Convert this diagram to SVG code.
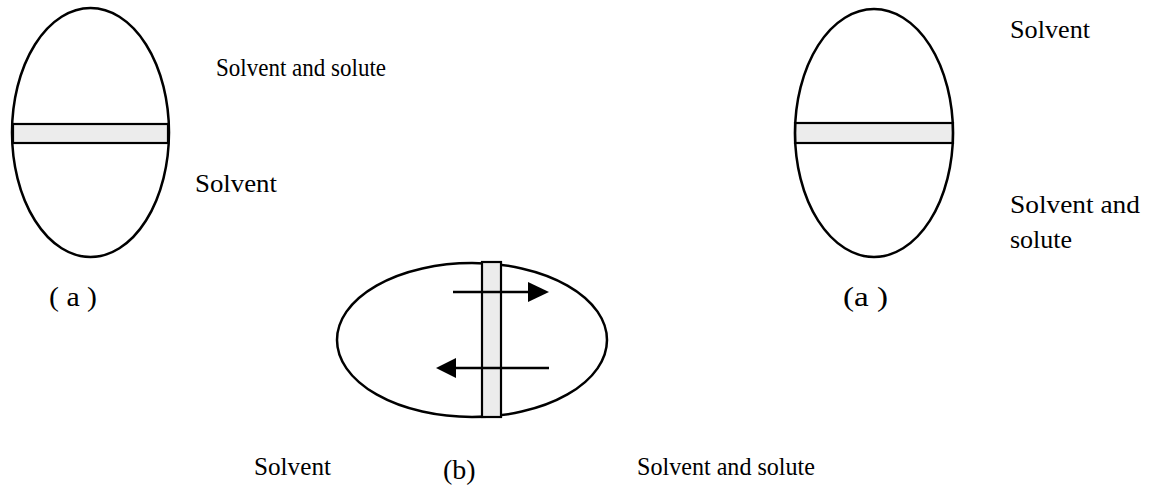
<svg xmlns="http://www.w3.org/2000/svg" width="1152" height="493" viewBox="0 0 1152 493">
<defs>
<style>
.shell{fill:none;stroke:#000;stroke-width:2.5}
.band{fill:#ececec;stroke:#000;stroke-width:2.2}
.lbl{font-family:"Liberation Serif","Times New Roman",serif;font-size:26px;fill:#000}
.par{font-family:"Liberation Serif","Times New Roman",serif;font-size:28px;fill:#000}
.ar{stroke:#000;stroke-width:2.4;fill:none}
</style>
</defs>
<rect width="1152" height="493" fill="#fff"/>
<g id="cell-left">
<rect class="band" x="13" y="124" width="155" height="19"/>
<ellipse class="shell" cx="90.5" cy="132.5" rx="78.5" ry="124.5"/>
</g>
<g id="cell-right">
<rect class="band" x="795" y="123" width="158" height="20"/>
<ellipse class="shell" cx="874" cy="133" rx="79" ry="124"/>
</g>
<g id="cell-middle">
<ellipse class="shell" cx="472" cy="340" rx="135" ry="77"/>
<rect class="band" x="482" y="262" width="19" height="155"/>
</g>
<g id="connectors">
<line class="ar" x1="453" y1="292" x2="528" y2="292"/>
<polygon points="528,282 549,292 528,302" fill="#000"/>
<line class="ar" x1="549" y1="368" x2="456" y2="368"/>
<polygon points="456,358 436,368 456,378" fill="#000"/>
</g>
<g id="labels">
<text class="lbl" x="216" y="76" textLength="170" lengthAdjust="spacingAndGlyphs">Solvent and solute</text>
<text class="lbl" x="195" y="192" textLength="82" lengthAdjust="spacingAndGlyphs">Solvent</text>
<text class="par" x="49" y="306" textLength="48" lengthAdjust="spacingAndGlyphs">( a )</text>
<text class="lbl" x="1010" y="38" textLength="80" lengthAdjust="spacingAndGlyphs">Solvent</text>
<text class="lbl" x="1010" y="213" textLength="130" lengthAdjust="spacingAndGlyphs">Solvent and</text>
<text class="lbl" x="1010" y="248">solute</text>
<text class="par" x="843" y="306" textLength="45" lengthAdjust="spacingAndGlyphs">(a )</text>
<text class="lbl" x="254" y="475" textLength="77" lengthAdjust="spacingAndGlyphs">Solvent</text>
<text class="par" x="443" y="479">(b)</text>
<text class="lbl" x="637" y="475" textLength="178" lengthAdjust="spacingAndGlyphs">Solvent and solute</text>
</g>
</svg>
